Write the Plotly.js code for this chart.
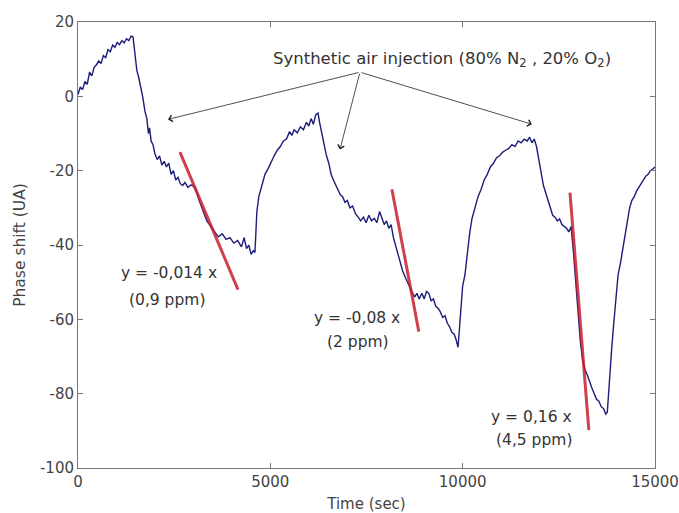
<!DOCTYPE html>
<html><head><meta charset="utf-8">
<script src="https://cdn.plot.ly/plotly-3.0.1.min.js"></script>
<style>html,body{margin:0;padding:0;background:#fff}</style>
</head><body><div id="chart" style="width:679px;height:513px"></div>
<script>
const timeSec = [0,60,120,180,240,300,360,420,480,540,600,660,720,780,840,900,960,1020,1080,1140,1200,1260,1320,1380,1430,
1480,1530,1580,1620,1680,1740,1790,1830,1860,1900,1950,2000,
2060,2120,2180,2240,2300,2360,2420,2480,2540,2600,2660,2720,2780,2860,2940,3000,3060,3150,3250,3350,3450,3550,3650,3750,3850,3950,4050,4150,4250,4320,4380,4440,4500,4560,4600,
4650,4700,4780,4860,4940,5020,5100,5180,5260,5340,5420,5500,5560,5620,5700,5780,5860,5940,6000,6060,6120,6180,6240,6280,
6340,6400,6460,6520,6580,6640,6700,6760,6820,6880,6940,7000,7070,7140,7210,7280,7350,7420,7490,7560,7630,7700,7770,7840,7900,7960,8020,8080,8140,
8200,8280,8360,8440,8520,8600,8680,8750,8810,8870,8940,9000,9060,9120,9180,9240,9300,9360,9420,9480,9540,9600,9660,9720,9780,9830,9880,
9920,9960,10000,10060,10120,10180,10240,10320,10400,10480,10560,10640,10720,10800,10880,10960,11040,11120,11200,11280,11360,11440,11520,11600,11680,11740,11800,11860,11920,
11980,12040,12100,12160,12220,12280,12340,12400,12460,12520,12580,12640,12700,12760,12820,
12880,12940,13000,13060,13120,13180,13240,13300,13360,13420,13480,13540,13600,13660,13720,13760,
13790,13840,13880,13920,13960,14000,14040,14100,14160,14220,14280,14340,14400,14460,14520,14580,14640,14700,14760,14820,14880,14950,15000];
const phaseShift = [0.5,2.5,1.8,4,3.2,6.5,5.5,7.8,8.5,9.5,8.8,11,10.4,12.6,12,13.8,13.2,14.5,13.9,15,14.4,15.5,15,16.2,16,
12,7,5,3,0,-4,-6,-10,-8.5,-12,-13,-15.5,
-17,-16,-18.5,-17.5,-19,-18,-21,-20,-22.5,-21.8,-23.5,-24,-23.2,-24.5,-23.8,-24.2,-25,-28,-31,-33.5,-35,-36.5,-37.8,-37,-38.5,-38,-39.5,-38.8,-40.5,-38,-41,-40,-42.5,-41.5,-42,
-31,-27,-24,-21,-19.5,-17.5,-16,-14.5,-13.5,-12,-11.5,-9.5,-10.5,-9,-9.8,-8.2,-9,-7,-8,-6,-7.5,-5,-4.5,-7,
-10,-13,-16,-18,-21,-22.5,-24,-25.5,-26.5,-27,-28.5,-28,-30,-29.5,-31.5,-32.5,-33.5,-32.5,-34,-32,-33.5,-32.8,-34,-31,-33,-34.5,-33.5,-35.5,-34.5,
-38,-41,-44,-47,-49,-51,-52.5,-54,-53,-54.5,-53,-54.5,-52.5,-53,-55,-54.5,-56.5,-57,-58,-59.5,-59,-61,-62,-63.5,-64,-65.5,-67.5,
-62,-55,-51,-48,-42,-37,-33,-30,-27,-25,-22.5,-21,-19,-18,-16.5,-16,-15,-14.5,-14,-13,-13.5,-12,-12.5,-11.5,-12,-11,-12.5,-11.5,-13.5,
-17,-21,-24,-26,-28,-30,-32,-32.5,-33.5,-33,-34.5,-35,-35.5,-36.5,-35,
-42,-50,-58,-66,-71,-73.5,-75,-77,-78.5,-80,-81.5,-82,-83.5,-84,-85.5,-85,
-80,-72,-67,-62,-57,-52,-48,-45,-41,-37,-33,-30,-28,-27,-25.5,-24.5,-23.5,-22.5,-21.5,-21,-20,-19.5,-19];

const fit1T = [2650, 4160], fit1V = [-15, -52];
const fit2T = [8160, 8860], fit2V = [-25, -63.3];
const fit3T = [12790, 13280], fit3V = [-25.9, -89.8];

const xTicks = [0, 5000, 10000, 15000];
const yTicks = [20, 0, -20, -40, -60, -80, -100];

const arrowTail = [7330, 6.5];
const arrowHeadsT = [2340, 6810, 11800];
const arrowHeadsV = [-6.2, -14.3, -7.5];

const fitLabelText = ['y = -0,014 x', '(0,9 ppm)', 'y = -0,08 x', '(2 ppm)', 'y = 0,16 x', '(4,5 ppm)'];
const fitLabelT = [2365, 2313, 7250, 7280, 11800, 11850];
const fitLabelV = [-47.4, -54.7, -59.6, -66, -86.3, -92.5];

const FONT = 'DejaVu Sans, sans-serif';
const fitColor = 'rgba(200,30,45,0.85)';
const traces = [
  {x: timeSec, y: phaseShift, mode: 'lines', line: {color: '#1c1c7a', width: 1.4}, hoverinfo: 'skip'},
  {x: fit1T, y: fit1V, mode: 'lines', line: {color: fitColor, width: 3}},
  {x: fit2T, y: fit2V, mode: 'lines', line: {color: fitColor, width: 3}},
  {x: fit3T, y: fit3V, mode: 'lines', line: {color: fitColor, width: 3}}
];

const annotations = [{
  x: 9460, y: 10, xref: 'x', yref: 'y', showarrow: false,
  text: 'Synthetic air injection (80% N<sub>2</sub> , 20% O<sub>2</sub>)',
  font: {family: FONT, size: 16.5, color: '#333'}
}];
arrowHeadsT.forEach((t, i) => {
  annotations.push({x: t, y: arrowHeadsV[i], xref: 'x', yref: 'y', ax: arrowTail[0], ay: arrowTail[1],
    axref: 'x', ayref: 'y', showarrow: true, arrowhead: 4, arrowsize: 1.6, arrowwidth: 0.8, arrowcolor: '#222', text: ''});
});
fitLabelText.forEach((s, i) => annotations.push({x: fitLabelT[i], y: fitLabelV[i], xref: 'x', yref: 'y', showarrow: false, text: s,
  font: {family: FONT, size: 15.5, color: '#333'}}));

const axisCommon = {showgrid: false, zeroline: false, showline: true, linecolor: '#777', linewidth: 1,
  mirror: 'ticks', ticks: 'inside', ticklen: 5, tickcolor: '#777',
  tickfont: {family: FONT, size: 15, color: '#444'}};

const layout = {
  width: 679, height: 513, margin: {l: 78, r: 24, t: 22, b: 45},
  paper_bgcolor: '#fff', plot_bgcolor: '#fff', showlegend: false,
  xaxis: Object.assign({}, axisCommon, {range: [0, 15000], tickvals: xTicks, ticktext: xTicks.map(String),
    title: {text: 'Time (sec)', standoff: 8, font: {family: FONT, size: 15, color: '#444'}}}),
  yaxis: Object.assign({}, axisCommon, {range: [-100, 20], tickvals: yTicks, ticktext: yTicks.map(String),
    title: {text: 'Phase shift (UA)', standoff: 10, font: {family: FONT, size: 15.5, color: '#444'}}}),
  annotations: annotations
};
Plotly.newPlot('chart', traces, layout, {displayModeBar: false, staticPlot: true});
</script></body></html>
